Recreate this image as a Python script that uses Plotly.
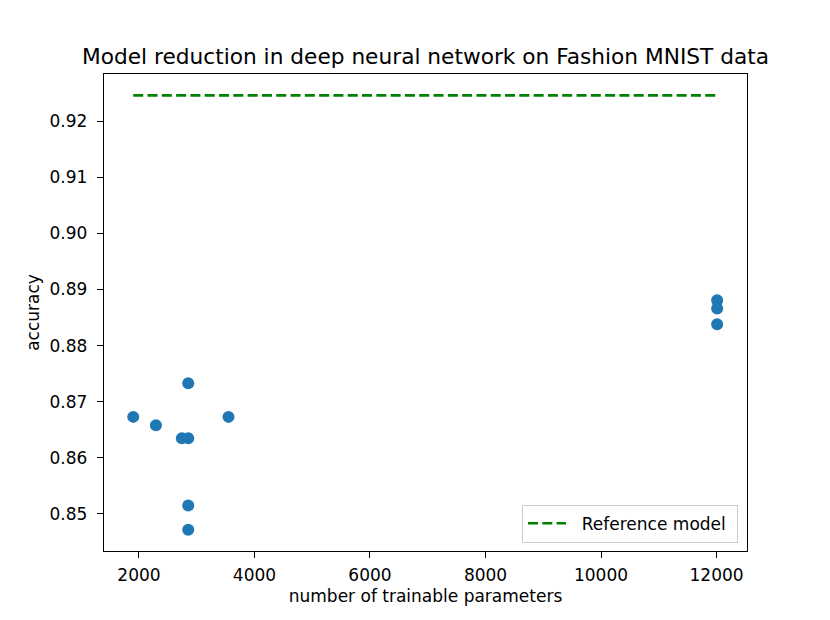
import plotly.graph_objects as go

# Data
params = [1901, 2294, 2743, 2853, 2853, 3550, 2853, 2853, 12010, 12010, 12010]
accuracy = [0.8673, 0.8658, 0.8635, 0.8635, 0.8733, 0.8673, 0.8515, 0.8472, 0.8881, 0.8866, 0.8838]
ref_x = [1901, 12010]
ref_acc = [0.9246, 0.9246]
x_ticks = [2000, 4000, 6000, 8000, 10000, 12000]
x_tick_labels = ["2000", "4000", "6000", "8000", "10000", "12000"]
y_ticks = [0.85, 0.86, 0.87, 0.88, 0.89, 0.90, 0.91, 0.92]

FONT = "DejaVu Sans"

fig = go.Figure()
fig.add_trace(go.Scatter(
    x=params, y=accuracy, mode="markers",
    marker=dict(color="#1f77b4", size=12, line=dict(width=0)),
    showlegend=False,
))
fig.add_trace(go.Scatter(
    x=ref_x, y=ref_acc, mode="lines",
    name="\u00a0\u00a0Reference model\u00a0",
    line=dict(color="green", width=2.7, dash="10px,4.3px"),
))

axis_common = dict(
    showgrid=False, zeroline=False, showline=True, mirror=True,
    linecolor="black", linewidth=1.4, ticks="outside", ticklen=6,
    tickwidth=1.4, tickcolor="black",
    tickfont=dict(family=FONT, size=17, color="black"),
)

fig.update_layout(
    width=830, height=620,
    margin=dict(l=104, r=83, t=74, b=69),
    paper_bgcolor="white", plot_bgcolor="white",
    font=dict(family=FONT, color="black"),
    title=dict(
        text="Model reduction in deep neural network on Fashion MNIST data",
        font=dict(family=FONT, size=21.7, color="black"),
        x=0.5, xref="paper", xanchor="center",
        y=1, yref="paper", yanchor="bottom", pad=dict(b=10),
    ),
    xaxis=dict(
        range=[1395, 12527], tickvals=x_ticks, ticktext=x_tick_labels,
        ticklabelstandoff=2,
        title=dict(text="number of trainable parameters",
                   font=dict(family=FONT, size=17), standoff=6),
        **axis_common,
    ),
    yaxis=dict(
        range=[0.8434, 0.9284], tickvals=y_ticks, tickformat=".2f",
        ticklabelstandoff=6,
        title=dict(text="accuracy", font=dict(family=FONT, size=17), standoff=5),
        **axis_common,
    ),
    legend=dict(
        x=0.986, y=0.0174, xanchor="right", yanchor="bottom",
        bgcolor="rgba(255,255,255,0.8)", bordercolor="#cccccc", borderwidth=1,
        itemwidth=38,
        font=dict(family=FONT, size=17, color="black"),
    ),
)

fig.write_html("out.html", config={"displayModeBar": False},
               post_script="document.body.style.margin='0';")
